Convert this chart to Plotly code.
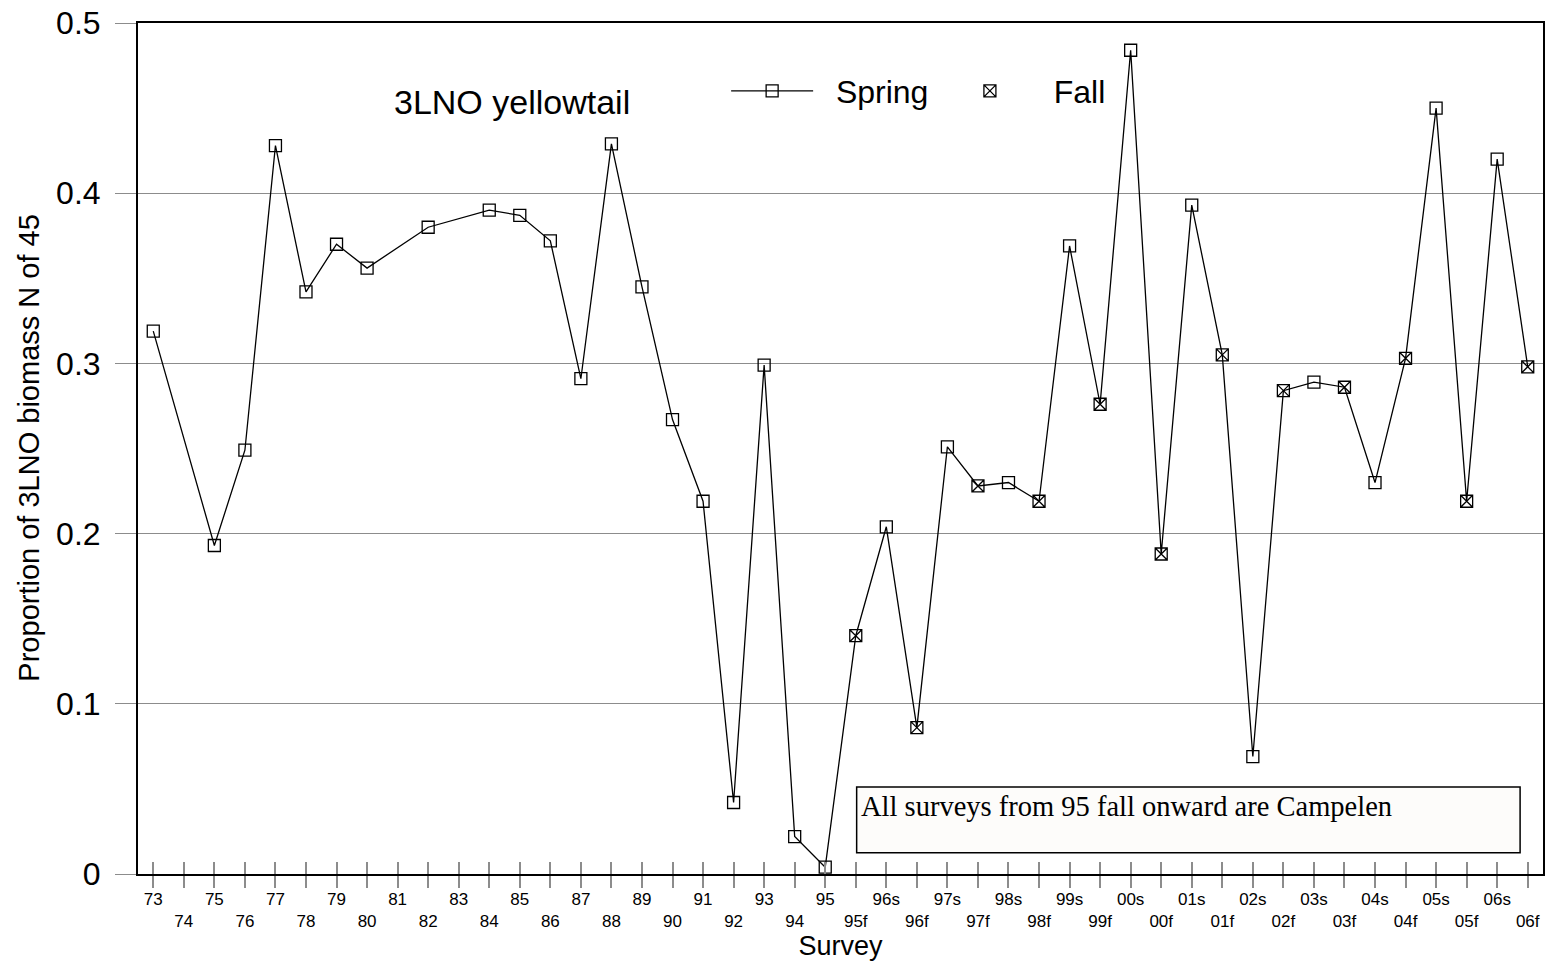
import plotly.graph_objects as go

# Survey labels (spring surveys up to 95, then spring "s" / fall "f" pairs)
surveys = ["73", "74", "75", "76", "77", "78", "79", "80", "81", "82", "83", "84",
           "85", "86", "87", "88", "89", "90", "91", "92", "93", "94", "95", "95f",
           "96s", "96f", "97s", "97f", "98s", "98f", "99s", "99f", "00s", "00f",
           "01s", "01f", "02s", "02f", "03s", "03f", "04s", "04f", "05s", "05f",
           "06s", "06f"]

# Proportion of 3LNO biomass north of 45 (None = no survey value)
proportion = [0.319, None, 0.193, 0.249, 0.428, 0.342, 0.370, 0.356, None, 0.380,
              None, 0.390, 0.387, 0.372, 0.291, 0.429, 0.345, 0.267, 0.219, 0.042,
              0.299, 0.022, 0.004, 0.140, 0.204, 0.086, 0.251, 0.228, 0.230, 0.219,
              0.369, 0.276, 0.484, 0.188, 0.393, 0.305, 0.069, 0.284, 0.289, 0.286,
              0.230, 0.303, 0.450, 0.219, 0.420, 0.298]

y_ticks = [0, 0.1, 0.2, 0.3, 0.4, 0.5]
y_tick_text = ["0", "0.1", "0.2", "0.3", "0.4", "0.5"]

idx = list(range(len(surveys)))
is_fall = [s.endswith("f") for s in surveys]

spring_x = [i for i in idx if not is_fall[i] and proportion[i] is not None]
spring_y = [proportion[i] for i in spring_x]
fall_x = [i for i in idx if is_fall[i] and proportion[i] is not None]
fall_y = [proportion[i] for i in fall_x]

# alternate tick labels between two rows
tick_text = [s if i % 2 == 0 else "<br>" + s for i, s in enumerate(surveys)]

FONT = "Liberation Sans, Arial, sans-serif"
GRID = "#8c8c8c"
PAD = "\u00a0\u00a0"

fig = go.Figure()

# connecting line through every survey, spring and fall alike
fig.add_trace(go.Scatter(
    x=idx, y=proportion, mode="lines", connectgaps=True,
    line=dict(color="black", width=1.3), showlegend=False, hoverinfo="skip"))

fig.add_trace(go.Scatter(
    x=spring_x, y=spring_y, mode="markers", name="Spring", showlegend=False,
    marker=dict(symbol="square-open", size=12, color="black",
                line=dict(width=1.3, color="black"))))

fig.add_trace(go.Scatter(
    x=fall_x, y=fall_y, mode="markers", name=PAD + "Fall", legend="legend2",
    marker=dict(symbol="square-x-open", size=12, color="black",
                line=dict(width=1.3, color="black"))))

# legend entry for spring shows line + marker
fig.add_trace(go.Scatter(
    x=[None], y=[None], mode="lines+markers", name=PAD + "Spring", legend="legend",
    line=dict(color="black", width=1.3),
    marker=dict(symbol="square-open", size=12, color="black",
                line=dict(width=1.3, color="black"))))

fig.add_trace(go.Scatter(x=[None], y=[None], xaxis="x2", showlegend=False,
                         hoverinfo="skip"))

fig.update_layout(
    width=1550, height=965,
    margin=dict(l=138, r=5, t=21, b=91),
    plot_bgcolor="white", paper_bgcolor="white",
    font=dict(family=FONT, color="black"),
    xaxis=dict(
        range=[-0.5, len(surveys) - 0.5],
        tickmode="array", tickvals=idx, ticktext=tick_text,
        tickfont=dict(size=17, family=FONT), ticklabelstandoff=-3,
        ticks="outside", ticklen=12, tickwidth=1.5, tickcolor=GRID,
        showline=True, linecolor="black", linewidth=1.5, mirror=True,
        showgrid=False, zeroline=False,
        title=dict(text="Survey", font=dict(size=27, family=FONT), standoff=6),
    ),
    xaxis2=dict(
        overlaying="x", matches="x", side="bottom",
        tickmode="array", tickvals=idx, showticklabels=False,
        ticks="inside", ticklen=12, tickwidth=1.5, tickcolor=GRID,
        showline=False, showgrid=False, zeroline=False,
    ),
    yaxis=dict(
        range=[0, 0.5],
        tickmode="array", tickvals=y_ticks, ticktext=y_tick_text,
        tickfont=dict(size=32, family=FONT), ticklabelstandoff=8,
        ticks="outside", ticklen=21, tickwidth=1.2, tickcolor=GRID,
        showgrid=True, gridcolor=GRID, gridwidth=1,
        showline=True, linecolor="black", linewidth=2, mirror=True,
        zeroline=False,
    ),
    legend=dict(
        x=0.4186, y=0.92, xanchor="left", yanchor="middle",
        orientation="h", itemwidth=82, bgcolor="rgba(0,0,0,0)",
        font=dict(size=32, family=FONT),
    ),
    legend2=dict(
        x=0.5736, y=0.92, xanchor="left", yanchor="middle",
        orientation="h", itemwidth=82, bgcolor="rgba(0,0,0,0)",
        font=dict(size=32, family=FONT),
    ),
    shapes=[dict(
        type="rect", xref="paper", yref="paper",
        x0=0.5115, x1=0.9837, y0=0.025, y1=0.1023,
        line=dict(color="black", width=1.5), fillcolor="#fdfcfa", layer="above",
    )],
    annotations=[
        dict(text="Proportion of 3LNO biomass N of 45", textangle=-90,
             xref="paper", yref="paper", x=-0.0782, y=0.5,
             xanchor="center", yanchor="middle", showarrow=False,
             font=dict(size=29, family=FONT)),
        dict(text="3LNO yellowtail", xref="paper", yref="paper",
             x=0.1805, y=0.907, xanchor="left", yanchor="middle",
             showarrow=False, font=dict(size=34, family=FONT)),
        dict(text="All surveys from 95 fall onward are Campelen",
             xref="paper", yref="paper", x=0.5135, y=0.1003,
             xanchor="left", yanchor="top", showarrow=False,
             font=dict(size=28.5, family="Liberation Serif, Times New Roman, serif")),
    ],
)

fig.write_html("out.html")
